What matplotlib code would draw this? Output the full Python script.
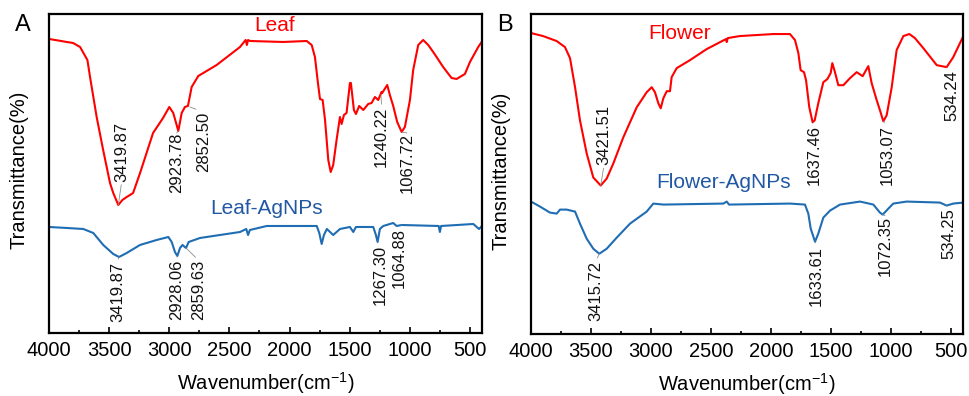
import matplotlib
matplotlib.use('Agg')
import matplotlib.pyplot as plt
import numpy as np

plt.rcParams['font.family'] = ['Liberation Sans', 'DejaVu Sans']
plt.rcParams['mathtext.default'] = 'regular'

# ---- panel A : leaf ----
leaf_w = [4000, 3900, 3853, 3800, 3742, 3681, 3659, 3604, 3550, 3493, 3466, 3424, 3390, 3354, 3301, 3243,
          3135, 3052, 3000, 2967, 2925, 2897, 2870, 2845, 2814, 2759, 2606, 2412, 2365, 2355, 2345, 2330,
          2054, 1858, 1816, 1789, 1764, 1747, 1725, 1705, 1678, 1658, 1637, 1609, 1581, 1567, 1548, 1526,
          1498, 1490, 1465, 1448, 1421, 1387, 1346, 1318, 1290, 1263, 1235, 1230, 1188, 1166, 1138, 1105,
          1068, 1041, 999, 972, 930, 889, 847, 806, 778, 723, 653, 611, 542, 500, 431, 403]
leaf_t = [294, 292, 291, 290, 286, 273, 256, 216, 183, 150, 140, 128, 133, 136, 140, 160,
          200, 215, 226, 220, 202, 220, 226, 227, 246, 257, 268, 286, 293, 288, 293, 292,
          291, 292, 288, 276, 250, 234, 233, 213, 173, 161, 168, 193, 216, 209, 218, 220,
          250, 250, 223, 219, 227, 223, 229, 230, 236, 233, 241, 240, 248, 238, 227, 211,
          201, 206, 233, 263, 288, 293, 288, 281, 276, 266, 255, 254, 259, 271, 286, 291]

leaf_ag_w = [4000, 3850, 3715, 3632, 3549, 3466, 3418, 3354, 3244, 3105, 3008, 2980, 2953, 2933, 2911, 2890,
             2861, 2839, 2745, 2412, 2360, 2345, 2330, 2190, 1774, 1753, 1733, 1714, 1690, 1637, 1581, 1498,
             1470, 1448, 1304, 1282, 1268, 1249, 1221, 1138, 1110, 1068, 760, 750, 740, 472, 425, 400]
leaf_ag_t = [106, 105, 104, 100, 88, 79, 76, 80, 88, 93, 96, 91, 81, 77, 85, 88,
             85, 91, 95, 101, 104, 98, 103, 107, 107, 100, 89, 98, 104, 98, 104, 106,
             101, 106, 106, 98, 91, 104, 107, 110, 107, 108, 107, 101, 107, 109, 104, 107]

# ---- panel B : flower ----
flower_w = [4000, 3900, 3786, 3717, 3675, 3633, 3592, 3536, 3481, 3419, 3369, 3314, 3231, 3119, 3036, 2994,
            2967, 2939, 2919, 2897, 2869, 2842, 2828, 2786, 2675, 2536, 2375, 2369, 2360, 2258, 1981, 1842,
            1800, 1772, 1753, 1725, 1708, 1681, 1653, 1636, 1606, 1564, 1531, 1503, 1489, 1467, 1439, 1397,
            1342, 1286, 1236, 1189, 1161, 1119, 1092, 1064, 1036, 994, 953, 897, 847, 801, 731, 619,
            536, 481, 425, 397]
flower_t = [300, 297, 292, 286, 275, 246, 213, 180, 156, 148, 155, 170, 196, 226, 241, 246,
            241, 230, 225, 235, 242, 242, 256, 265, 273, 284, 294, 291, 295, 297, 299, 299,
            293, 280, 263, 261, 253, 226, 211, 213, 230, 251, 254, 260, 270, 261, 248, 248,
            255, 261, 257, 267, 250, 233, 223, 212, 218, 246, 283, 297, 299, 295, 285, 268,
            266, 276, 290, 297]

flower_ag_w = [4000, 3925, 3842, 3786, 3758, 3703, 3633, 3592, 3536, 3481, 3431, 3369, 3286, 3175, 3036, 2981,
               2897, 2397, 2369, 2350, 1842, 1717, 1689, 1669, 1633, 1606, 1564, 1508, 1425, 1258, 1147, 1092,
               1069, 1022, 981, 869, 592, 536, 481, 397]
flower_ag_t = [132, 127, 121, 120, 124, 124, 122, 110, 95, 85, 80, 85, 96, 110, 122, 130,
               129, 130, 132, 129, 130, 129, 120, 105, 92, 100, 116, 123, 129, 132, 129, 121,
               119, 125, 130, 132, 131, 128, 130, 131]

# peak labels: text, peak position, text position, anchor
leaf_peaks = [('3419.87', 3424, 128, 3396, 151, 'bottom'),
              ('2923.78', 2925, 202, 2938, 200, 'top'),
              ('2852.50', 2830, 226, 2712, 221, 'top'),
              ('1240.22', 1240, 238, 1234, 226, 'top'),
              ('1067.72', 1068, 201, 1024, 200, 'top')]
leaf_ag_peaks = [('3419.87', 3418, 76, 3432, 71, 'top'),
                 ('2928.06', 2933, 77, 2938, 73, 'top'),
                 ('2859.63', 2861, 85, 2759, 73, 'top'),
                 ('1267.30', 1268, 91, 1249, 88, 'top'),
                 ('1064.88', 1068, 108, 1091, 105, 'top')]
flower_peaks = [('3421.51', 3419, 148, 3392, 168, 'bottom'),
                ('1637.46', 1645, 211, 1642, 208, 'top'),
                ('1053.07', 1064, 212, 1031, 208, 'top'),
                ('534.24', 536, 266, 494, 263, 'top')]
flower_ag_peaks = [('3415.72', 3431, 80, 3458, 73, 'top'),
                   ('1633.61', 1633, 92, 1625, 88, 'top'),
                   ('1072.35', 1069, 119, 1050, 118, 'top'),
                   ('534.25', 536, 128, 514, 125, 'top')]

red = '#ff0000'
blue = '#1f6db3'
blue_txt = '#2158a3'

fig = plt.figure(figsize=(9.69, 3.96), dpi=100)
axA = fig.add_axes([0.0506, 0.1591, 0.4468, 0.8056])
axB = fig.add_axes([0.548, 0.1566, 0.4458, 0.8081])


def draw(ax, w1, t1, w2, t2, pk1, pk2, name1, pos1, name2, pos2):
    ax.plot(w1, t1, color=red, lw=1.5)
    ax.plot(w2, t2, color=blue, lw=1.5)
    for lab, pw, pt, tx, ty, va in pk1 + pk2:
        rel = (0.5, 0) if va == 'bottom' else (0.5, 1)
        ax.annotate(lab, xy=(pw, pt), xytext=(tx, ty), rotation=90, ha='center', va=va,
                    fontsize=12, color='#111111',
                    arrowprops=dict(arrowstyle='-', color='0.55', lw=0.6, relpos=rel,
                                    shrinkA=0, shrinkB=0))
    ax.text(pos1[0], pos1[1], name1, color=red, fontsize=15, ha='center', va='center')
    ax.text(pos2[0], pos2[1], name2, color=blue_txt, fontsize=15, ha='center', va='center')
    ax.set_xlim(4000, 400)
    ax.set_ylim(0, 319)
    ax.set_xticks(np.arange(4000, 400, -500))
    ax.set_xticks(np.arange(3750, 400, -250), minor=True)
    ax.set_yticks([])
    ax.tick_params(axis='x', which='major', direction='in', length=4, width=1.2, labelsize=14.5, pad=6)
    ax.tick_params(axis='x', which='minor', direction='in', length=2.5, width=1.2)
    for s in ax.spines.values():
        s.set_linewidth(1.6)
    ax.set_xlabel('Wavenumber(cm$^{-1}$)', fontsize=14.5, labelpad=7)
    ax.set_ylabel('Transmittance(%)', fontsize=14.5)
    ax.yaxis.set_label_coords(-0.047, 0.51)


draw(axA, leaf_w, leaf_t, leaf_ag_w, leaf_ag_t, leaf_peaks, leaf_ag_peaks,
     'Leaf', (2121, 307), 'Leaf-AgNPs', (2190, 124))
draw(axB, flower_w, flower_t, flower_ag_w, flower_ag_t, flower_peaks, flower_ag_peaks,
     'Flower', (2758, 300), 'Flower-AgNPs', (2397, 151))

fig.text(23 / 969, 1 - 25 / 396, 'A', fontsize=17, ha='center', va='center')
fig.text(505 / 969, 1 - 25 / 396, 'B', fontsize=17, ha='center', va='center')

fig.savefig('out.png', dpi=100)
